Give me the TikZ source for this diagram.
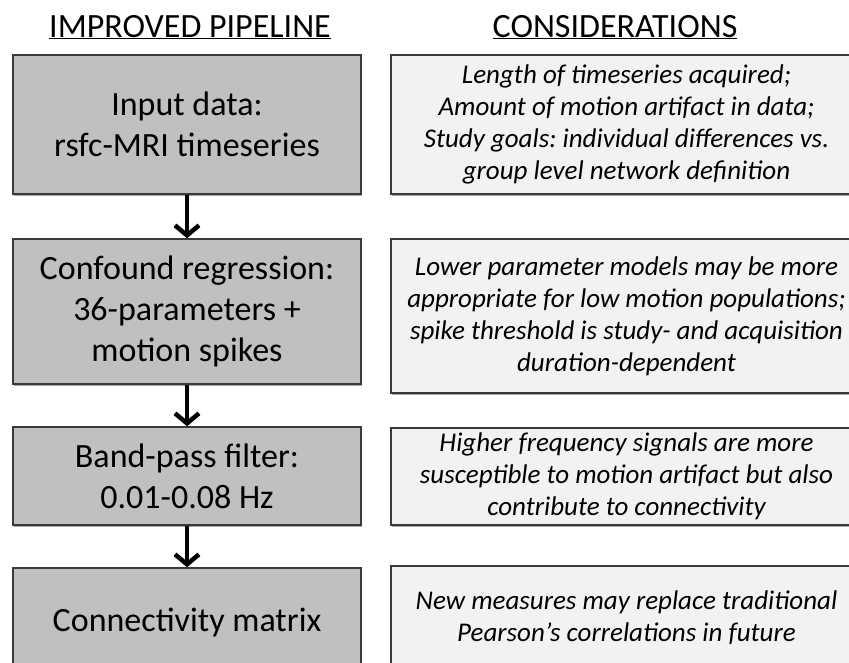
\documentclass[tikz,border=0pt]{standalone}
\usepackage{fontspec}
\setmainfont{Carlito}
\usetikzlibrary{positioning, arrows.meta, shadows}
\definecolor{stagegray}{RGB}{192,192,192}
\definecolor{notegray}{RGB}{242,242,242}
\definecolor{rimgray}{RGB}{58,58,58}

\begin{document}
\frenchspacing
\begin{tikzpicture}[x=1pt,y=-1pt,
  stage/.style={draw=rimgray, line width=1.5pt, fill=stagegray, minimum width=348pt,
    align=center, inner sep=0pt,
    font=\fontsize{34}{41}\selectfont,
    drop shadow={shadow xshift=1pt, shadow yshift=-1.5pt, fill=black, opacity=.35}},
  note/.style={stage, fill=notegray, minimum width=471pt,
    font=\fontsize{27}{32}\selectfont\itshape},
  heading/.style={font=\fontsize{34}{38}\selectfont, anchor=base, inner sep=0pt},
  flow/.style={-{Straight Barb[length=10pt,width=24pt]}, line width=4.5pt, black}
]
\useasboundingbox (0,0) rectangle (849,662);

% column titles
\node[heading] (hpipe) at (190,37) {\underline{IMPROVED PIPELINE}};
\node[heading] (hcons) at (615,37) {\underline{CONSIDERATIONS}};

% pipeline
\node[stage, minimum height=139pt] (input) at (187,124.5) {Input data:\\ rsfc-MRI timeseries};
\node[stage, minimum height=145pt] (confound) at (187,311.5) {Confound regression:\\ 36-parameters +\\ motion spikes};
\node[stage, minimum height=98pt] (bandpass) at (187,476) {Band-pass filter:\\ 0.01-0.08 Hz};
\node[stage, minimum height=108pt] (connmat) at (187,622) {Connectivity matrix};

% considerations
\node[note, minimum height=139pt] (cinput) at (626.5,124.5) {Length of timeseries acquired;\\ Amount of motion artifact in data;\\ Study goals: individual differences vs.\\ group level network definition};
\node[note, minimum height=154pt] (cconfound) at (626.5,316) {Lower parameter models may be more\\ appropriate for low motion populations;\\ spike threshold is study- and acquisition\\ duration-dependent};
\node[note, minimum height=97pt] (cbandpass) at (626.5,476.5) {Higher frequency signals are more\\ susceptible to motion artifact but also\\ contribute to connectivity};
\node[note, minimum height=104pt] (cconnmat) at (626.5,618) {New measures may replace traditional\\ Pearson’s correlations in future};

\path[flow]
(input) edge (confound)
(confound) edge (bandpass)
(bandpass) edge (connmat);
\end{tikzpicture}
\end{document}
